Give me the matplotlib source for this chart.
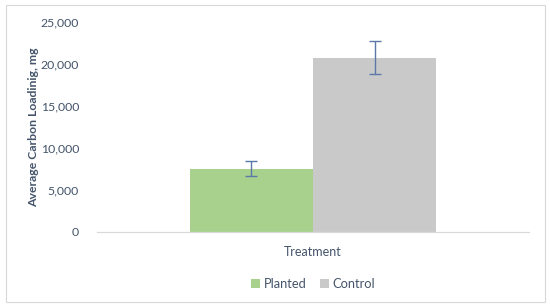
import matplotlib
matplotlib.use("Agg")
import matplotlib.pyplot as plt
from matplotlib.patches import Rectangle
from matplotlib.ticker import FuncFormatter

categories = ["Treatment"]
series = ["Planted", "Control"]
means = [7550, 20750]
errors = [900, 2000]
colors = ["#A9D18E", "#C9C9C9"]

TEXT = "#44546A"
ERR = "#5A78A8"

plt.rcParams["font.family"] = ["Lato", "DejaVu Sans"]

fig = plt.figure(figsize=(5.5, 3.07), dpi=100)
ax = fig.add_axes([97 / 550, 75 / 307, 432 / 550, 210 / 307])

width = 0.285
offsets = [-width / 2, width / 2]
for name, m, e, c, off in zip(series, means, errors, colors, offsets):
    ax.bar(0 + off, m, width=width, color=c, label=name, zorder=2)
    ax.errorbar(0 + off, m, yerr=e, fmt="none", ecolor=ERR, elinewidth=1.0,
                capsize=4, capthick=1.0, zorder=3)

ax.set_xlim(-0.5, 0.5)
ax.set_ylim(0, 25000)
ax.set_yticks(range(0, 25001, 5000))
ax.yaxis.set_major_formatter(FuncFormatter(lambda v, p: f"{int(v):,}"))
ax.set_xticks([0])
ax.set_xticklabels(categories)
ax.tick_params(axis="both", length=0, colors=TEXT, labelsize=9)
ax.tick_params(axis="y", labelsize=8.8, pad=13)
ax.tick_params(axis="x", pad=10)
for s in ["top", "right", "left"]:
    ax.spines[s].set_visible(False)
ax.spines["bottom"].set_color("#D9D9D9")
ax.spines["bottom"].set_linewidth(0.9)

ax.set_ylabel("Average Carbon Loadinig, mg", color=TEXT, fontsize=8.8,
              fontweight="bold", labelpad=1)

leg = ax.legend(loc="upper center", bbox_to_anchor=(0.5, -0.165), ncol=2,
                frameon=False, fontsize=9.3, handlelength=0.7, handleheight=0.7,
                handletextpad=0.3, columnspacing=1.0)
for t in leg.get_texts():
    t.set_color(TEXT)

fig.patches.append(Rectangle((6 / 550, 5 / 307), 539 / 550, 297 / 307,
                             transform=fig.transFigure, fill=False,
                             edgecolor="#D9D9D9", linewidth=0.8))

fig.savefig("out.png", dpi=100)
